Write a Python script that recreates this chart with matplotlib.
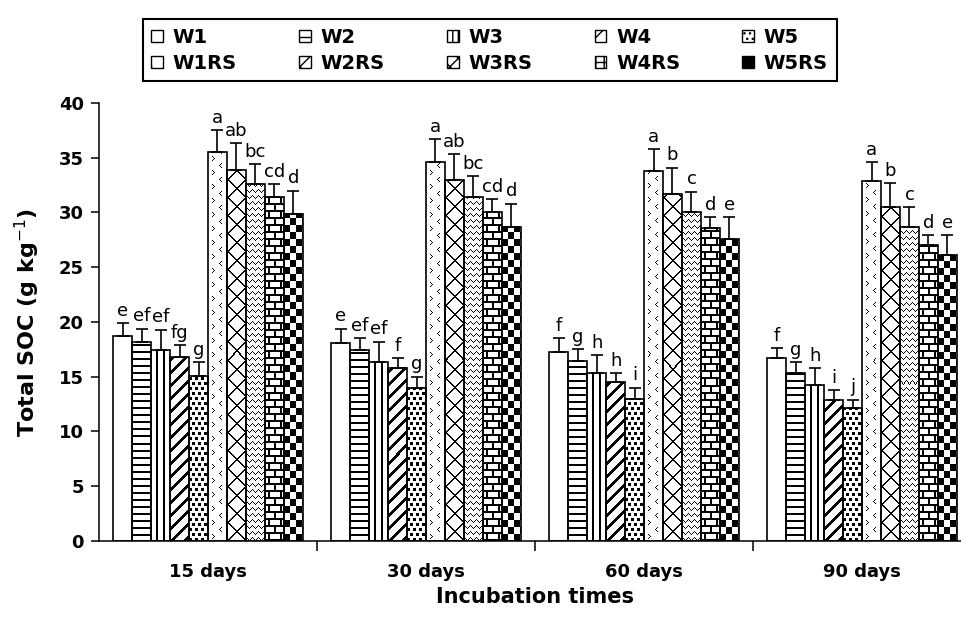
import numpy as np
import matplotlib
matplotlib.use("Agg")
import matplotlib.pyplot as plt
from matplotlib.patches import Patch

times = ["15 days", "30 days", "60 days", "90 days"]
treatments = ["W1", "W2", "W3", "W4", "W5",
              "W1RS", "W2RS", "W3RS", "W4RS", "W5RS"]

# mean total SOC (g/kg): one row per treatment, one value per incubation time
soc_mean = [
    [18.7, 18.1, 17.3, 16.7],  # W1
    [18.2, 17.4, 16.4, 15.3],  # W2
    [17.4, 16.3, 15.3, 14.2],  # W3
    [16.8, 15.8, 14.5, 12.9],  # W4
    [15.1, 14.0, 13.0, 12.1],  # W5
    [35.5, 34.6, 33.8, 32.9],  # W1RS
    [33.9, 33.0, 31.7, 30.5],  # W2RS
    [32.6, 31.4, 30.0, 28.7],  # W3RS
    [31.4, 30.0, 28.6, 27.0],  # W4RS
    [29.9, 28.7, 27.6, 26.1],  # W5RS
]
soc_err = [
    [1.2, 1.3, 1.2, 0.9],
    [1.2, 1.1, 1.1, 1.0],
    [1.9, 1.9, 1.7, 1.6],
    [1.1, 0.9, 0.8, 0.9],
    [1.2, 1.0, 1.0, 0.8],
    [2.0, 2.1, 2.0, 1.7],
    [2.4, 2.3, 2.4, 2.2],
    [1.8, 1.9, 1.9, 1.8],
    [1.2, 1.2, 1.0, 0.9],
    [2.1, 2.1, 2.0, 1.8],
]
# significance letters, one list per incubation time
letters = [
    ["e", "ef", "ef", "fg", "g", "a", "ab", "bc", "cd", "d"],
    ["e", "ef", "ef", "f", "g", "a", "ab", "bc", "cd", "d"],
    ["f", "g", "h", "h", "i", "a", "b", "c", "d", "e"],
    ["f", "g", "h", "i", "j", "a", "b", "c", "d", "e"],
]

# fill pattern per treatment (drawn as small bitmaps inside the bars)
fills = [None, "hlines", "vlines", "diag", "dots",
         "chev", "diamond", "zigzag", "brick", "checker"]
# hatches for the tiny legend keys
legend_hatch = [None, "--", "|||", "//", "...", ".", "x", "xx", "++", None]
legend_face = ["white"] * 9 + ["black"]


def make_pattern(name, h, w):
    """Return an (h, w) array, 1 = black, row 0 at the bottom of the bar."""
    yy, xx = np.mgrid[0:h, 0:w]
    if name == "hlines":
        img = (yy % 7) >= 5
    elif name == "vlines":
        img = ((xx - 5) % 7) < 2
    elif name == "diag":
        img = ((xx - yy) % 13) < 4
    elif name == "dots":
        img = (((yy % 10) < 3) & ((xx % 6) < 3)) | \
              ((((yy - 5) % 10) < 3) & (((xx - 3) % 6) < 3))
    elif name == "diamond":
        img = (((xx + yy) % 18) < 2) | (((xx - yy) % 18) < 2)
    elif name == "zigzag":
        img = ((yy - np.abs((xx % 6) - 3)) % 6) == 0
    elif name == "brick":
        row = yy // 7
        off = np.where(row % 2 == 0, 3, 9)
        img = ((yy % 7) < 2) | (((xx - off) % 12) < 2)
    elif name == "checker":
        img = ((xx // 6) + (yy // 7)) % 2 == 0
    elif name == "chev":
        img = np.zeros((h, w), dtype=bool)
        x_right = int(w * 0.25)
        x_left = int(w * 0.62)
        for y0 in range(2, h, 14):
            for dy in range(5):
                yr = y0 + dy
                if yr < h:
                    img[yr, x_right + 2 - abs(dy - 2)] = True
                yl = y0 + 7 + dy
                if yl < h:
                    img[yl, x_left + abs(dy - 2)] = True
    else:
        img = np.zeros((h, w), dtype=bool)
    return img.astype(float)


fig = plt.figure(figsize=(9.62, 6.17), dpi=100)
ax = fig.add_axes([0.1029, 0.1232, 0.9065, 0.7099])
ax.set_xlim(-0.5, 3.5)
ax.set_ylim(0, 40)

bw = 0.087
groups = np.arange(len(times))
px_x = ax.transData.transform((1, 0))[0] - ax.transData.transform((0, 0))[0]
px_y = ax.transData.transform((0, 1))[1] - ax.transData.transform((0, 0))[1]

for i, name in enumerate(treatments):
    xs = groups + (i - 4.5) * bw
    means = np.array(soc_mean[i])
    errs = np.array(soc_err[i])

    if fills[i] is not None:
        for x, m in zip(xs, means):
            img = make_pattern(fills[i], int(round(m * px_y)), int(round(bw * px_x)))
            ax.imshow(img, extent=(x - bw / 2, x + bw / 2, 0, m), origin="lower",
                      cmap="gray_r", vmin=0, vmax=1, interpolation="nearest",
                      aspect="auto", zorder=1)

    ax.bar(xs, means, bw, facecolor="none", edgecolor="black",
           linewidth=1.2, zorder=2)
    ax.errorbar(xs, means, yerr=[np.zeros_like(errs), errs], fmt="none",
                ecolor="black", elinewidth=1.2, capsize=4.5, capthick=1.2,
                zorder=3)
    for g, (x, m, e) in enumerate(zip(xs, means, errs)):
        ax.text(x, m + e + 0.3, letters[g][i], ha="center", va="bottom",
                fontsize=13)

ax.set_xlim(-0.5, 3.5)
ax.set_ylim(0, 40)

ax.spines["top"].set_visible(False)
ax.spines["right"].set_visible(False)
ax.spines["left"].set_linewidth(1.1)
ax.spines["bottom"].set_linewidth(1.1)

ax.set_yticks(np.arange(0, 41, 5))
ax.tick_params(axis="y", direction="out", length=6, width=1.1, labelsize=13, pad=5)
ax.set_xticks(groups)
ax.set_xticklabels(times)
ax.set_xticks([0.5, 1.5, 2.5], minor=True)
ax.tick_params(axis="x", which="major", length=0, labelsize=13, pad=16)
ax.tick_params(axis="x", which="minor", direction="out", length=7, width=1.1)
for lbl in ax.get_xticklabels() + ax.get_yticklabels():
    lbl.set_fontweight("bold")

ax.set_xlabel("Incubation times", fontsize=15, fontweight="bold", labelpad=4)
ax.set_ylabel("Total SOC (g kg$^{-1}$)", fontsize=16, fontweight="bold", labelpad=12)

# legend: two rows (W1..W5 on top, W1RS..W5RS below); matplotlib fills by column
handles = [Patch(facecolor=legend_face[i], edgecolor="black", hatch=legend_hatch[i],
                 linewidth=1.0) for i in range(len(treatments))]
order = [k for c in range(5) for k in (c, c + 5)]
leg = fig.legend([handles[k] for k in order], [treatments[k] for k in order],
                 ncol=5, loc="upper center", bbox_to_anchor=(0.509, 0.985),
                 prop={"weight": "bold", "size": 14}, fancybox=False,
                 edgecolor="black", framealpha=1, handlelength=0.6,
                 handleheight=0.6, handletextpad=0.5, columnspacing=3.2,
                 labelspacing=0.35, borderpad=0.45)
leg.get_frame().set_linewidth(1.5)

fig.savefig("out.png", dpi=100)
